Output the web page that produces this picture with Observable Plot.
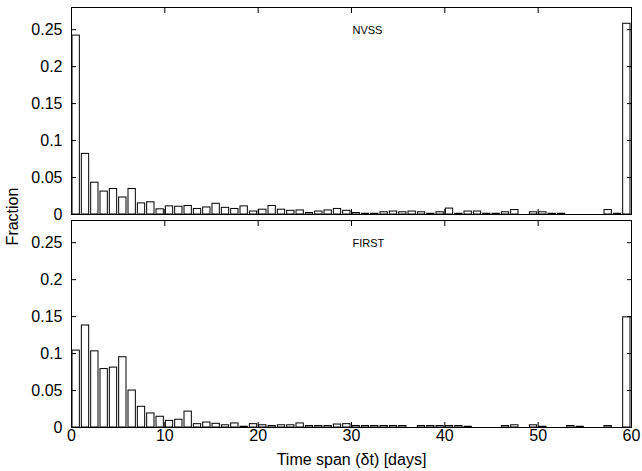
<!DOCTYPE html>
<html>
<head>
<meta charset="utf-8">
<script src="https://cdn.jsdelivr.net/npm/d3@7"></script>
<script src="https://cdn.jsdelivr.net/npm/@observablehq/plot@0.6"></script>
<style>
  html, body { margin: 0; padding: 0; background: #fff; }
  #chart svg { display: block; }
</style>
</head>
<body>
<div id="chart"></div>
<script>
// Panels (surveys)
const panels = ["NVSS", "FIRST"];
// Day bins 0..59 (bin width 1 day)
const days = d3.range(0, 60);
// Fraction per 1-day bin
const nvss = [
  0.242, 0.082, 0.043, 0.031, 0.0345, 0.023, 0.0345, 0.015, 0.0165, 0.007,
  0.011, 0.0105, 0.0115, 0.0075, 0.0095, 0.0145, 0.009, 0.0075, 0.011, 0.004,
  0.0065, 0.0115, 0.0065, 0.005, 0.0055, 0.002, 0.004, 0.0055, 0.0075, 0.005,
  0.002, 0.001, 0.001, 0.003, 0.004, 0.003, 0.004, 0.003, 0.001, 0.003,
  0.008, 0.001, 0.004, 0.004, 0.001, 0.001, 0.003, 0.006, 0, 0.003,
  0.003, 0.001, 0.001, 0, 0, 0, 0, 0.006, 0.001, 0.258
];
const first = [
  0.104, 0.138, 0.103, 0.079, 0.081, 0.095, 0.050, 0.028, 0.019, 0.0145,
  0.009, 0.0105, 0.0215, 0.0045, 0.0067, 0.005, 0.003, 0.0055, 0.001, 0.0045,
  0.003, 0.002, 0.003, 0.003, 0.0055, 0.002, 0.002, 0.002, 0.004, 0.0045,
  0.002, 0.002, 0.002, 0.002, 0.002, 0.002, 0, 0.002, 0.002, 0.002,
  0.002, 0.002, 0.001, 0, 0, 0, 0.002, 0.003, 0, 0.003,
  0.001, 0, 0, 0.002, 0.001, 0, 0, 0.002, 0, 0.149
];
// Tick values
const xTicks = [0, 10, 20, 30, 40, 50, 60];
const yTicks = [0, 0.05, 0.1, 0.15, 0.2, 0.25];
const xLabel = "Time span (\u03b4t) [days]";
const yLabel = "Fraction";

const rows = [
  ...days.map((d, i) => ({panel: "NVSS", day: d, value: nvss[i]})),
  ...days.map((d, i) => ({panel: "FIRST", day: d, value: first[i]}))
];

const fmt = d => String(+d.toFixed(2));

const chart = Plot.plot({
  width: 642,
  height: 471,
  marginLeft: 71,
  marginRight: 11,
  marginTop: 7,
  marginBottom: 43,
  style: {fontFamily: "'Liberation Sans', Arial, sans-serif", fontSize: "16px", color: "black", background: "white"},
  x: {domain: [0, 60], label: xLabel},
  y: {domain: [0, 0.28], label: null},
  fy: {domain: panels, paddingInner: 0.026, paddingOuter: 0, axis: null, label: null},
  marks: [
    Plot.rectY(rows, {
      x: "day", interval: 1, y: "value", fy: "panel",
      insetLeft: 1, insetRight: 1,
      fill: "white", stroke: "black", strokeWidth: 1
    }),
    Plot.frame({stroke: "black", strokeWidth: 1}),
    // y tick labels
    Plot.axisY({anchor: "left", ticks: yTicks, tickFormat: fmt, tickSize: 0, tickPadding: 9, fontSize: 16, label: null}),
    // inward tick marks
    Plot.axisY({anchor: "left", ticks: yTicks, tickSize: 5, dx: 5, text: null, label: null}),
    Plot.axisY({anchor: "right", ticks: yTicks, tickSize: 5, dx: -5, text: null, label: null}),
    Plot.axisX({anchor: "bottom", ticks: xTicks, tickSize: 0, tickPadding: 2, fontSize: 16,
      label: xLabel, labelAnchor: "center", labelArrow: "none", labelOffset: 37}),
    Plot.axisX({anchor: "bottom", ticks: xTicks, tickSize: 5, dy: -5, text: null, label: null, facetAnchor: null}),
    Plot.axisX({anchor: "top", ticks: xTicks, tickSize: 5, dy: 5, text: null, label: null, facetAnchor: null}),
    // panel names
    Plot.text(panels, {fy: d => d, text: d => d, frameAnchor: "top", textAnchor: "start",
      lineAnchor: "top", dx: 1, dy: 19, fontSize: 11}),
    // shared y label
    Plot.text([yLabel], {fy: () => "NVSS", text: d => d, frameAnchor: "bottom-left",
      rotate: -90, textAnchor: "middle", lineAnchor: "middle", dx: -59, dy: 2, fontSize: 16})
  ]
});

document.getElementById("chart").appendChild(chart);
</script>
</body>
</html>
